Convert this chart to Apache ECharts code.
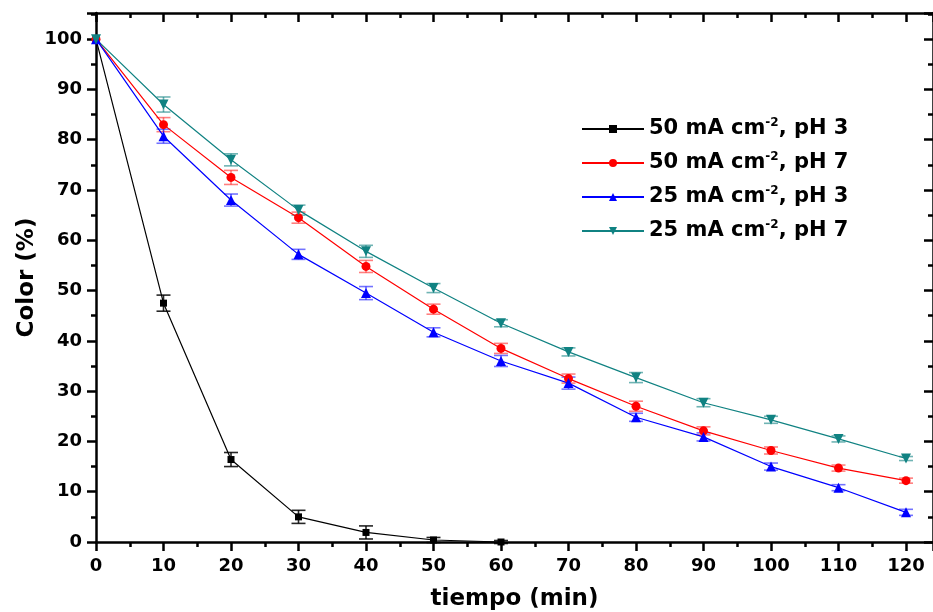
<!DOCTYPE html>
<html>
<head>
<meta charset="utf-8">
<script src="https://cdn.jsdelivr.net/npm/echarts@6/dist/echarts.min.js"></script>
<style>
  html, body { margin: 0; padding: 0; background: #fff; }
  #chart { width: 933px; height: 612px; }
</style>
</head>
<body>
<div id="chart"></div>
<script>
// tiempo (min)
const tiempo = [0, 10, 20, 30, 40, 50, 60, 70, 80, 90, 100, 110, 120]

// Color (%) por serie
const c50ph3 = [100, 47.5, 16.4, 5.0, 1.9, 0.4, 0]
const c50ph7 = [100, 83.0, 72.5, 64.5, 54.8, 46.3, 38.5, 32.5, 27.0, 22.1, 18.2, 14.7, 12.2]
const c25ph3 = [100, 80.7, 68.0, 57.2, 49.5, 41.7, 36.0, 31.6, 24.8, 20.9, 15.0, 10.8, 5.9]
const c25ph7 = [100, 87.0, 76.0, 66.0, 57.8, 50.5, 43.5, 37.8, 32.7, 27.7, 24.3, 20.5, 16.6]

// barras de error (+/-)
const e50ph3 = [0, 1.6, 1.4, 1.3, 1.3, 0.5, 0.3]
const e50ph7 = [0, 1.4, 1.4, 1.1, 1.2, 1.0, 1.0, 0.9, 1.0, 0.8, 0.7, 0.6, 0.5]
const e25ph3 = [0, 1.4, 1.2, 1.0, 1.3, 0.9, 1.1, 1.2, 0.8, 0.8, 0.7, 0.6, 0.6]
const e25ph7 = [0, 1.5, 1.2, 1.0, 1.2, 0.9, 0.7, 0.8, 1.0, 0.8, 0.7, 0.6, 0.4]

const xTicks = [0, 10, 20, 30, 40, 50, 60, 70, 80, 90, 100, 110, 120]
const yTicks = [0, 10, 20, 30, 40, 50, 60, 70, 80, 90, 100]

const series = [
  { name: '50 mA cm-2, pH 3', y: c50ph3, e: e50ph3, color: '#000000', bar: 'rgba(0,0,0,0.85)', symbol: 'rect', size: 7, rotate: 0 },
  { name: '50 mA cm-2, pH 7', y: c50ph7, e: e50ph7, color: '#ff0000', bar: 'rgba(255,0,0,0.5)', symbol: 'circle', size: 9, rotate: 0 },
  { name: '25 mA cm-2, pH 3', y: c25ph3, e: e25ph3, color: '#0000ff', bar: 'rgba(0,0,255,0.55)', symbol: 'triangle', size: 10, rotate: 0 },
  { name: '25 mA cm-2, pH 7', y: c25ph7, e: e25ph7, color: '#108282', bar: 'rgba(16,130,130,0.6)', symbol: 'triangle', size: 10, rotate: 180 }
]

const FONT = 'DejaVu Sans, Liberation Sans, sans-serif'

const errorBars = (s) => ({
  type: 'custom',
  xAxisIndex: 0,
  yAxisIndex: 0,
  z: 1,
  silent: true,
  data: s.y.map((v, i) => [tiempo[i], v, s.e[i]]),
  renderItem: (params, api) => {
    const x = api.value(0)
    const y = api.value(1)
    const e = api.value(2)
    if (!e) return null
    const top = api.coord([x, y + e])
    const bot = api.coord([x, y - e])
    const w = 7
    const style = { stroke: s.bar, lineWidth: 1.6, fill: null }
    return {
      type: 'group',
      children: [
        { type: 'line', shape: { x1: top[0], y1: top[1], x2: bot[0], y2: bot[1] }, style },
        { type: 'line', shape: { x1: top[0] - w, y1: top[1], x2: top[0] + w, y2: top[1] }, style },
        { type: 'line', shape: { x1: bot[0] - w, y1: bot[1], x2: bot[0] + w, y2: bot[1] }, style }
      ]
    }
  }
})

const lines = series.map(s => ({
  name: s.name,
  type: 'line',
  xAxisIndex: 0,
  yAxisIndex: 0,
  z: 3,
  data: s.y.map((v, i) => [tiempo[i], v]),
  symbol: s.symbol,
  symbolSize: s.size,
  symbolRotate: s.rotate,
  showAllSymbol: true,
  itemStyle: { color: s.color },
  lineStyle: { color: s.color, width: 1.2 },
  emphasis: { disabled: true },
  animation: false
}))

const axisBase = {
  type: 'value',
  axisLine: { show: true, onZero: false, lineStyle: { color: '#000', width: 2.5 } },
  splitLine: { show: false },
  minorSplitLine: { show: false }
}

const tick = (inside) => ({ show: true, inside, length: 9, lineStyle: { width: 2.5, color: '#000' } })
const minor = { show: true, splitNumber: 2, length: 5, lineStyle: { width: 2.5, color: '#000' } }

const option = {
  animation: false,
  grid: { left: 96, top: 13, right: 0, bottom: 70, outerBoundsMode: 'none', containLabel: false },
  legend: {
    left: 576,
    top: 112,
    orient: 'vertical',
    itemGap: 10,
    itemWidth: 62,
    itemHeight: 10,
    data: series.map(s => s.name),
    formatter: name => {
      const parts = name.split('-2')
      return '{a|' + parts[0] + '}{s|-2}{a|' + parts[1] + '}'
    },
    textStyle: {
      rich: {
        a: { fontFamily: FONT, fontWeight: 'bold', fontSize: 21, color: '#000', lineHeight: 24 },
        s: { fontFamily: FONT, fontWeight: 'bold', fontSize: 12, color: '#000', padding: [0, 0, 12, 0], lineHeight: 24 }
      }
    }
  },
  xAxis: [
    Object.assign({}, axisBase, {
      min: 0, max: 124, interval: 10,
      position: 'bottom',
      name: 'tiempo (min)',
      nameLocation: 'middle',
      nameGap: 46,
      nameMoveOverlap: false,
      nameTextStyle: { fontFamily: FONT, fontWeight: 'bold', fontSize: 23, color: '#000' },
      axisTick: tick(false),
      minorTick: minor,
      axisLabel: {
        fontFamily: FONT, fontWeight: 'bold', fontSize: 18, color: '#000', margin: 15,
        showMaxLabel: false,
        formatter: v => xTicks.includes(v) ? String(v) : ''
      }
    }),
    Object.assign({}, axisBase, {
      min: 0, max: 124, interval: 10,
      position: 'top',
      axisTick: tick(true),
      minorTick: minor,
      axisLabel: { show: false }
    })
  ],
  yAxis: [
    Object.assign({}, axisBase, {
      min: 0, max: 105.2, interval: 10,
      position: 'left',
      name: 'Color (%)',
      nameLocation: 'middle',
      nameGap: 57,
      nameMoveOverlap: false,
      nameTextStyle: { fontFamily: FONT, fontWeight: 'bold', fontSize: 23, color: '#000' },
      axisTick: tick(false),
      minorTick: minor,
      axisLabel: {
        fontFamily: FONT, fontWeight: 'bold', fontSize: 18, color: '#000', margin: 14,
        showMaxLabel: false,
        formatter: v => yTicks.includes(v) ? String(v) : ''
      }
    }),
    Object.assign({}, axisBase, {
      min: 0, max: 105.2, interval: 10,
      position: 'right',
      axisTick: tick(true),
      minorTick: minor,
      axisLabel: { show: false }
    })
  ],
  series: series.map(errorBars).concat(lines)
}

const chart = echarts.init(document.getElementById('chart'), null, { renderer: 'canvas' })
chart.setOption(option)
</script>
</body>
</html>
